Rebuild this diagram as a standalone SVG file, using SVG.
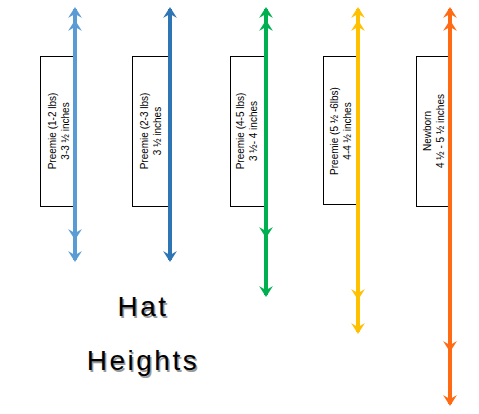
<svg xmlns="http://www.w3.org/2000/svg" xmlns:xlink="http://www.w3.org/1999/xlink" width="479" height="414" viewBox="0 0 479 414">
<style>
.box{fill:#fff;stroke:#000;stroke-width:1}
.lbl{font-family:"Liberation Sans",Arial,sans-serif;font-size:10px;fill:#000;text-anchor:middle}
.shaft{stroke-width:4;fill:none}
.title{font-family:"Liberation Sans",Arial,sans-serif;font-size:28px;text-anchor:middle;letter-spacing:2.5px}
</style>
<defs>
<path id="up" d="M0,0 L7,11 L0,7 L-7,11 Z"/>
<path id="dn" d="M0,0 L7,-11 L0,-7 L-7,-11 Z"/>
</defs>
<rect width="479" height="414" fill="#fff"/>
<g id="node1">
<rect class="box" x="40.5" y="56.5" width="36" height="150"/>
<text class="lbl" transform="translate(56,131) rotate(-90)">Preemie (1-2 lbs)</text>
<text class="lbl" transform="translate(69,131) rotate(-90)">3-3 ½ inches</text>
</g>
<g id="node2">
<rect class="box" x="132.5" y="56.5" width="38" height="150"/>
<text class="lbl" transform="translate(148,131) rotate(-90)">Preemie (2-3 lbs)</text>
<text class="lbl" transform="translate(161,131) rotate(-90)">3 ½ inches</text>
</g>
<g id="node3">
<rect class="box" x="230.5" y="56.5" width="36" height="150"/>
<text class="lbl" transform="translate(244,131) rotate(-90)">Preemie (4-5 lbs)</text>
<text class="lbl" transform="translate(257,131) rotate(-90)">3 ½- 4 inches</text>
</g>
<g id="node4">
<rect class="box" x="323.5" y="56.5" width="34" height="148"/>
<text class="lbl" transform="translate(338,131) rotate(-90)">Preemie (5 ½ -6lbs)</text>
<text class="lbl" transform="translate(351,131) rotate(-90)">4-4 ½ inches</text>
</g>
<g id="node5">
<rect class="box" x="416.5" y="56.5" width="34" height="150"/>
<text class="lbl" transform="translate(431,131) rotate(-90)">Newborn</text>
<text class="lbl" transform="translate(444,131) rotate(-90)">4 ½ - 5 ½ inches</text>
</g>
<g id="connectors">
<g fill="#5B9BD5">
<line class="shaft" stroke="#5B9BD5" x1="75" y1="9" x2="75" y2="260"/>
<use xlink:href="#up" x="75" y="7"/><use xlink:href="#up" x="75" y="20"/>
<use xlink:href="#dn" x="75" y="240"/><use xlink:href="#dn" x="75" y="262"/>
</g>
<g fill="#2E75B6">
<line class="shaft" stroke="#2E75B6" x1="170" y1="9" x2="170" y2="260"/>
<use xlink:href="#up" x="170" y="7"/>
<use xlink:href="#dn" x="170" y="262"/>
</g>
<g fill="#00B050">
<line class="shaft" stroke="#00B050" x1="266" y1="9" x2="266" y2="295"/>
<use xlink:href="#up" x="266" y="7"/><use xlink:href="#up" x="266" y="20"/>
<use xlink:href="#dn" x="266" y="238"/><use xlink:href="#dn" x="266" y="297"/>
</g>
<g fill="#FFC000">
<line class="shaft" stroke="#FFC000" x1="358" y1="9" x2="358" y2="332"/>
<use xlink:href="#up" x="358" y="7"/><use xlink:href="#up" x="358" y="20"/>
<use xlink:href="#dn" x="358" y="300"/><use xlink:href="#dn" x="358" y="334"/>
</g>
<g fill="#FF6A13">
<line class="shaft" stroke="#FF6A13" x1="450" y1="9" x2="450" y2="404"/>
<use xlink:href="#up" x="450" y="7"/><use xlink:href="#up" x="450" y="20"/>
<use xlink:href="#dn" x="450" y="352"/><use xlink:href="#dn" x="450" y="406"/>
</g>
</g>
<g id="title">
<text class="title" x="144.5" y="317.5" fill="#999">Hat</text>
<text class="title" x="143" y="316" fill="#000">Hat</text>
<text class="title" x="144.5" y="371.5" fill="#999">Heights</text>
<text class="title" x="143" y="370" fill="#000">Heights</text>
</g>
</svg>
